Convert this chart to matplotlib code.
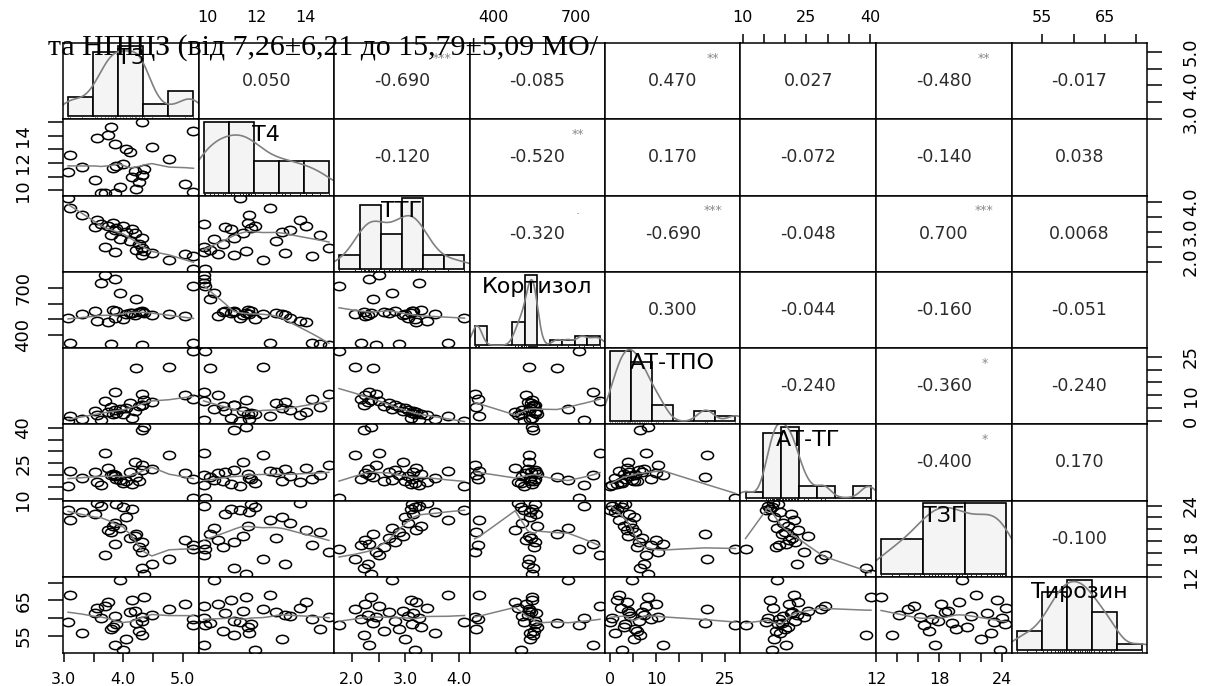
import numpy as np
import matplotlib
matplotlib.use("Agg")
import matplotlib.pyplot as plt
from matplotlib.path import Path
from matplotlib.transforms import Affine2D

# ---- data: 30 patients, 8 lab measures ----
names = ["Т3", "Т4", "ТТГ", "Кортизол", "АТ-ТПО", "АТ-ТГ", "ТЗГ", "Тирозин"]

ttg = [1.76, 2.05, 2.18, 2.22, 2.25, 2.30, 2.33, 2.36, 2.40, 2.45,
       2.50, 2.60, 2.70, 2.75, 2.80, 2.88, 2.95, 3.00, 3.05, 3.10,
       3.12, 3.15, 3.18, 3.20, 3.25, 3.30, 3.40, 3.55, 3.80, 4.11]
t3 = [5.17, 4.77, 5.18, 4.31, 5.04, 4.48, 3.86, 4.35, 4.22, 4.31,
      3.69, 4.27, 4.11, 3.95, 4.31, 3.80, 4.20, 4.05, 3.86, 4.15,
      3.88, 3.52, 4.00, 3.75, 3.62, 3.83, 3.55, 3.30, 3.10, 3.07]
t4 = [9.90, 12.27, 14.30, 11.10, 10.45, 13.17, 9.84, 11.60, 10.10, 14.98,
      9.85, 10.62, 12.80, 10.26, 11.10, 14.60, 11.45, 13.05, 13.40, 10.95,
      11.78, 10.74, 11.95, 14.02, 9.85, 11.67, 13.80, 11.71, 12.56, 11.35]
cort = [710, 530, 345, 545, 520, 525, 760, 540, 630, 333,
        786, 548, 538, 670, 552, 340, 528, 535, 505, 542,
        550, 555, 500, 480, 730, 558, 490, 533, 350, 510]
tpo = [27.2, 21.0, 8.8, 6.5, 10.0, 7.4, 11.5, 8.3, 20.5, 10.5,
       7.8, 5.8, 7.0, 4.8, 6.2, 5.5, 3.9, 5.2, 4.4, 1.5,
       3.3, 4.1, 2.7, 3.6, 0.5, 3.0, 2.3, 1.0, 2.0, 0.0]
tg = [10.7, 28.5, 18.6, 39.0, 21.0, 22.8, 20.3, 40.2, 19.3, 24.5,
      29.5, 17.8, 21.6, 18.0, 22.4, 20.0, 25.5, 17.5, 19.6, 16.5,
      18.3, 21.3, 17.0, 23.1, 16.0, 20.6, 17.2, 18.9, 22.0, 15.5]
tzg = [16.6, 15.0, 17.3, 13.5, 18.2, 14.2, 17.6, 12.48, 19.2, 16.2,
       15.6, 17.0, 18.5, 20.2, 17.9, 19.6, 18.8, 22.0, 21.0, 23.5,
       24.2, 22.5, 23.8, 19.9, 24.0, 20.6, 24.38, 22.9, 21.5, 23.2]
tyr = [57.9, 62.5, 59.6, 55.2, 64.0, 61.0, 52.5, 66.0, 58.5, 60.3,
       63.3, 56.4, 61.8, 70.9, 59.2, 57.0, 62.1, 54.0, 60.7, 65.2,
       58.2, 61.4, 50.9, 64.6, 60.0, 57.5, 62.8, 55.8, 66.5, 58.8]

columns = [t3, t4, ttg, cort, tpo, tg, tzg, tyr]
hist_bins = [5, 5, 6, 10, 6, 7, 3, 5]

# upper triangle: Pearson r and significance marks, row by row
corr_upper = [
    [0.050, -0.690, -0.085, 0.470, 0.027, -0.480, -0.017],
    [-0.120, -0.520, 0.170, -0.072, -0.140, 0.038],
    [-0.320, -0.690, -0.048, 0.700, 0.0068],
    [0.300, -0.044, -0.160, -0.051],
    [-0.240, -0.360, -0.240],
    [-0.400, 0.170],
    [-0.100],
]
stars_upper = [
    ["", "***", "", "**", "", "**", ""],
    ["", "**", "", "", "", ""],
    [".", "***", "", "***", ""],
    ["", "", "", ""],
    ["", "*", ""],
    ["*", ""],
    [""],
]

tick_pos = [
    [3.0, 3.5, 4.0, 4.5, 5.0],
    [10, 11, 12, 13, 14, 15],
    [2.0, 2.5, 3.0, 3.5, 4.0],
    [400, 500, 600, 700],
    [0, 5, 10, 15, 20, 25],
    [10, 15, 20, 25, 30, 35, 40],
    [12, 14, 16, 18, 20, 22, 24],
    [55, 60, 65, 70],
]
tick_lab = [
    ["3.0", "", "4.0", "", "5.0"],
    ["10", "", "12", "", "14", ""],
    ["2.0", "", "3.0", "", "4.0"],
    ["400", "", "", "700"],
    ["0", "", "10", "", "", "25"],
    ["10", "", "", "25", "", "", "40"],
    ["12", "", "", "18", "", "", "24"],
    ["55", "", "65", ""],
]

note = "та НПЩЗ (від 7,26±6,21 до 15,79±5,09 МО/"

NARROW = ["Liberation Sans Narrow", "DejaVu Sans"]
plt.rcParams["font.family"] = ["DejaVu Sans"]


def lowess(x, y, f=2 / 3, iters=3):
    order = np.argsort(x, kind="stable")
    x = np.asarray(x, float)[order]
    y = np.asarray(y, float)[order]
    n = len(x)
    r = int(np.ceil(f * n))
    h = np.array([np.sort(np.abs(x - x[i]))[r - 1] for i in range(n)])
    h = np.maximum(h, 1e-9)
    w = np.clip(np.abs((x[:, None] - x[None, :]) / h[:, None]), 0, 1)
    w = (1 - w ** 3) ** 3
    delta = np.ones(n)
    yest = np.zeros(n)
    for _ in range(iters + 1):
        for i in range(n):
            wi = delta * w[i]
            A = np.array([[wi.sum(), (wi * x).sum()],
                          [(wi * x).sum(), (wi * x * x).sum()]])
            b = np.array([(wi * y).sum(), (wi * y * x).sum()])
            beta = np.linalg.lstsq(A, b, rcond=None)[0]
            yest[i] = beta[0] + beta[1] * x[i]
        res = y - yest
        s = np.median(np.abs(res))
        if s <= 0:
            break
        delta = np.clip(res / (6 * s), -1, 1)
        delta = (1 - delta ** 2) ** 2
    return x, yest


def kde(vals, grid):
    v = np.asarray(vals, float)
    n = len(v)
    q75, q25 = np.percentile(v, [75, 25])
    bw = 0.9 * min(v.std(ddof=1), (q75 - q25) / 1.34) * n ** -0.2
    z = (grid[:, None] - v[None, :]) / bw
    return np.exp(-0.5 * z * z).sum(1) / (n * bw * np.sqrt(2 * np.pi))


def fmt_r(r):
    return f"{r:.3f}" if abs(r) >= 0.01 else f"{r:.4f}"


lims = []
for v in columns:
    lo, hi = min(v), max(v)
    pad = 0.04 * (hi - lo)
    lims.append((lo - pad, hi + pad))

ellipse = Path.unit_circle().transformed(Affine2D().scale(1.45, 1.0))

W, H = 1209, 686
left, right, top, bottom = 63, 1147, 43, 653
pw = (right - left) / 8
ph = (bottom - top) / 8
nv = len(names)

fig = plt.figure(figsize=(W / 100, H / 100), dpi=100)

for i in range(nv):
    for j in range(nv):
        ax = fig.add_axes([(left + j * pw) / W, 1 - (top + (i + 1) * ph) / H,
                           pw / W, ph / H])
        for sp in ax.spines.values():
            sp.set_linewidth(1.1)
            sp.set_color("black")
        ax.set_xlim(lims[j])
        ax.set_xticks([])
        ax.set_yticks([])

        if i == j:
            vals = np.asarray(columns[i], float)
            edges = np.linspace(vals.min(), vals.max(), hist_bins[i] + 1)
            dens, _ = np.histogram(vals, bins=edges, density=True)
            m = dens.max()
            ax.bar(edges[:-1], dens, width=np.diff(edges), align="edge",
                   color="#f4f4f4", edgecolor="black", linewidth=1.2)
            grid = np.linspace(lims[i][0], lims[i][1], 300)
            ax.plot(grid, kde(vals, grid), color="#808080", lw=1.2)
            ax.vlines(vals, 0, 0.035, transform=ax.get_xaxis_transform(),
                      color="#222222", lw=0.7)
            ax.set_ylim(-0.04 * m, 1.04 * m)
            ax.text(0.5, 0.8, names[i], transform=ax.transAxes, ha="center",
                    va="center", fontsize=16, color="black")
        elif i > j:
            ax.set_ylim(lims[i])
            ax.plot(columns[j], columns[i], ls="none", marker=ellipse, ms=8.7,
                    mfc="none", mec="black", mew=1.1)
            sx, sy = lowess(columns[j], columns[i])
            ax.plot(sx, sy, color="#808080", lw=1.1)
        else:
            ax.set_ylim(lims[i])
            r = corr_upper[i][j - i - 1]
            ax.text(0.5, 0.5, fmt_r(r), transform=ax.transAxes, ha="center",
                    va="center", fontsize=12.5, color="#2b2b2b")
            st = stars_upper[i][j - i - 1]
            if st:
                ax.text(0.8, 0.8, st, transform=ax.transAxes, ha="center",
                        va="center", fontsize=9, color="#8a8a8a")

        # outer axes alternate sides, as in a pairs plot
        if i == nv - 1 and j % 2 == 0:
            ax.set_xticks(tick_pos[j])
            ax.set_xticklabels(tick_lab[j], fontsize=11.5)
            ax.tick_params(axis="x", bottom=True, length=6.5, width=1.1, pad=7)
        if i == 0 and j % 2 == 1:
            ax.set_xticks(tick_pos[j])
            ax.set_xticklabels(tick_lab[j], fontsize=11.5)
            hidden = j in (1, 3)
            ax.tick_params(axis="x", bottom=False, labelbottom=False, top=True,
                           labeltop=True, length=0 if hidden else 6.5,
                           width=1.1, pad=13 if hidden else 6.5)
        if j == 0 and i % 2 == 1:
            ax.set_yticks(tick_pos[i])
            ax.set_yticklabels(tick_lab[i], fontsize=13, family=NARROW,
                               rotation=90, va="center")
            ax.tick_params(axis="y", left=True, length=11, width=1.1, pad=11)
        if j == nv - 1 and i % 2 == 0:
            ax.set_yticks(tick_pos[i])
            ax.set_yticklabels(tick_lab[i], fontsize=13, family=NARROW,
                               rotation=90, va="center")
            ax.tick_params(axis="y", left=False, labelleft=False, right=True,
                           labelright=True, length=11, width=1.1, pad=14)

fig.text(48 / W, 1 - 55 / H, note, fontsize=21.5, va="baseline", ha="left",
         family=["Liberation Serif", "DejaVu Serif"], color="black", zorder=10)

fig.savefig("out.png", dpi=100)
